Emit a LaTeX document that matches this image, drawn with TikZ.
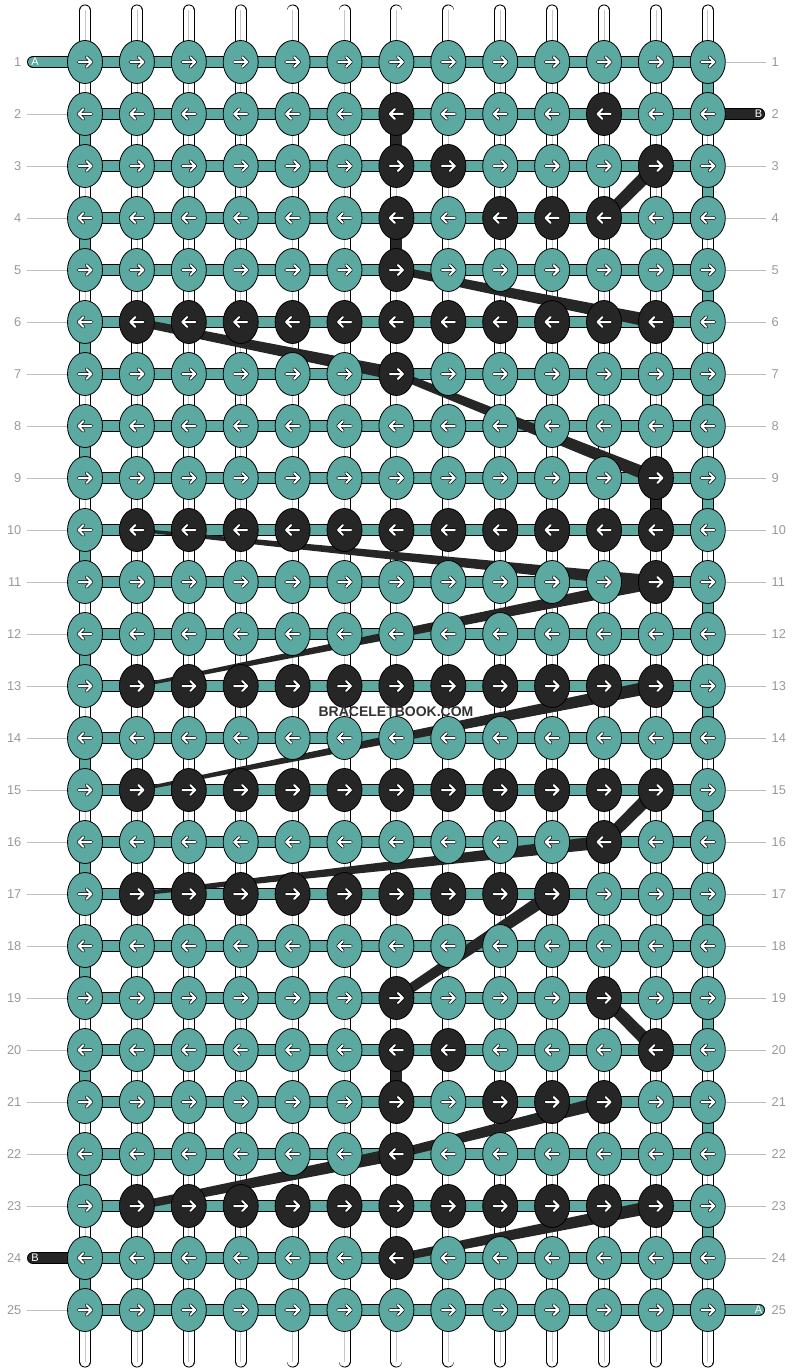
\documentclass[tikz,border=0pt]{standalone}
\usepackage{fontspec}
\setmainfont{Liberation Sans}
\usetikzlibrary{shapes.geometric}
\usetikzlibrary{calc}
\definecolor{thra}{HTML}{5BA9A0}
\definecolor{thrb}{HTML}{262626}
\definecolor{numgray}{HTML}{999999}
\definecolor{linegray}{HTML}{BDBDBD}
\definecolor{markgray}{HTML}{333333}
\pgfdeclarelayer{under}
\pgfsetlayers{under,main}
\tikzset{knot/.style = {ellipse, draw, line width = 0.8, inner sep = 0,
                        minimum width = 35, minimum height = 43}}
\tikzset{knota/.style = {knot, fill = thra}}
\tikzset{knotb/.style = {knot, fill = thrb}}
\tikzset{fwd/.style = {path picture = {
  \draw [shift = {(path picture bounding box.center)}, black, line width = 3.4,
         line cap = round, line join = round] (-6.5, 0) -- (6.5, 0) (1.5, -5) -- (6.5, 0) -- (1.5, 5);
  \draw [shift = {(path picture bounding box.center)}, white, line width = 2,
         line cap = round, line join = round] (-6.5, 0) -- (6.5, 0) (1.5, -5) -- (6.5, 0) -- (1.5, 5);}}}
\tikzset{bwd/.style = {path picture = {
  \draw [shift = {(path picture bounding box.center)}, black, line width = 3.4,
         line cap = round, line join = round] (6.5, 0) -- (-6.5, 0) (-1.5, -5) -- (-6.5, 0) -- (-1.5, 5);
  \draw [shift = {(path picture bounding box.center)}, white, line width = 2,
         line cap = round, line join = round] (6.5, 0) -- (-6.5, 0) (-1.5, -5) -- (-6.5, 0) -- (-1.5, 5);}}}
\tikzset{warp/.style = {draw = black, line width = 0.8, double = white, double distance = 10.4, line cap = round}}
\tikzset{bara/.style = {draw = black, line width = 0.8, double = thra, double distance = 10.4}}
\tikzset{barb/.style = {draw = black, line width = 0.8, double = thrb, double distance = 10.4}}
\tikzset{rowno/.style = {text = numgray, font = \fontsize{12.8}{12.8}\selectfont, inner sep = 0}}
\tikzset{endno/.style = {text = white, font = \fontsize{11}{11}\selectfont, inner sep = 0}}
\tikzset{rowline/.style = {draw = linegray, line width = 0.8}}
\newcommand\threadback[3]{\fill [thrb] ($(#1)!#3!90:(#2)$) -- ($(#2)!6.5pt!-90:(#1)$)
  -- ($(#2)!6.5pt!90:(#1)$) -- ($(#1)!#3!-90:(#2)$) -- cycle;}

\begin{document}
\begin{tikzpicture}[x = 1pt, y = -1pt]
        \useasboundingbox (0, 0) rectangle (792, 1372);
        \foreach \p in {2-7, 2-11, 3-7, 3-8, 3-12, 4-7, 4-9, 4-10, 4-11, 5-7, 7-7, 9-12, 11-12, 16-11,
                        19-7, 19-11, 20-7, 20-8, 20-12, 21-7, 21-9, 21-10, 21-11, 22-7, 24-7}
          {\expandafter\gdef\csname dark-\p\endcsname{}}
        \foreach \r in {6, 10, 13, 15, 23}
          \foreach \c in {2, ..., 12} {\expandafter\gdef\csname dark-\r-\c\endcsname{}}
        \foreach \c in {2, ..., 10} {\expandafter\gdef\csname dark-17-\c\endcsname{}}
        \foreach \r in {1, ..., 25} {
          \foreach \c in {1, ..., 13} {
            \ifcsname dark-\r-\c\endcsname \def\kfill{knotb}\else \def\kfill{knota}\fi
            \ifodd\r \def\kdir{fwd}\else \def\kdir{bwd}\fi
            \node [\kfill, \kdir] (k-\r-\c) at ({85 + 51.9*(\c - 1)}, {62 + 52*(\r - 1)}) {};
          }
          \node [rowno, anchor = east] (l-\r) at (21.5, {62 + 52*(\r - 1)}) {\r};
          \node [rowno, anchor = west] (r-\r) at (771.5, {62 + 52*(\r - 1)}) {\r};
          \ifnum\r=1 \else \ifnum\r=24 \else
            \draw [rowline, shorten <= 5pt] (l-\r.east) -- (k-\r-1.west);
          \fi \fi
          \ifnum\r=2 \else \ifnum\r=25 \else
            \draw [rowline, shorten >= 6pt] (k-\r-13.east) -- (r-\r.west);
          \fi \fi
        }
        \coordinate (tail-1) at (33, 62);
        \coordinate (tail-24) at (33, 1258);
        \coordinate (tail-2) at (759, 114);
        \coordinate (tail-25) at (759, 1310);
        \node [endno] (end-1) at (35, 62) {A};
        \node [endno] (end-24) at (35, 1258) {B};
        \node [endno] (end-2) at (758.5, 114) {B};
        \node [endno] (end-25) at (758.5, 1310) {A};
        \node [text = markgray, font = \fontsize{14}{14}\selectfont\bfseries] (mark) at (396, 711.5) {BRACELETBOOK.COM};
        \begin{pgfonlayer}{under}
          \foreach \c in {1, ..., 13} {
            \coordinate (top-\c) at ({85 + 51.9*(\c - 1)}, 10.5);
            \coordinate (bot-\c) at ({85 + 51.9*(\c - 1)}, 1361.5);
            \draw [warp] (top-\c) -- (bot-\c);
            \draw [gray!45, line width = 0.8] (top-\c) -- (bot-\c);
          }
          \foreach \r in {1, ..., 25}
            \draw [bara] (k-\r-1.center) -- (k-\r-13.center);
          \draw [bara, line cap = round] (k-1-1.center) -- (tail-1);
          \draw [barb, line cap = round] (k-24-1.center) -- (tail-24);
          \draw [barb, line cap = round] (k-2-13.center) -- (tail-2);
          \draw [bara, line cap = round] (k-25-13.center) -- (tail-25);
          \foreach \r [evaluate = \r as \s using int(\r + 1)] in {1, 3, ..., 23}
            \draw [bara] (k-\r-13.center) -- (k-\s-13.center);
          \foreach \r [evaluate = \r as \s using int(\r + 1)] in {2, 4, ..., 24}
            \draw [bara] (k-\r-1.center) -- (k-\s-1.center);
          \foreach \a/\b/\c in {2/3/7, 4/5/7, 9/10/12, 20/21/7}
            \draw [barb] (k-\a-\c.center) -- (k-\b-\c.center);
          \threadback{k-4-11}{k-3-12}{5.8pt}
          \threadback{k-5-7}{k-6-12}{3.9pt}
          \threadback{k-6-2}{k-7-7}{3.9pt}
          \threadback{k-7-7}{k-9-12}{3.7pt}
          \threadback{k-10-2}{k-11-12}{1.5pt}
          \threadback{k-13-2}{k-11-12}{1.5pt}
          \threadback{k-15-2}{k-13-12}{1.5pt}
          \threadback{k-16-11}{k-15-12}{5.8pt}
          \threadback{k-17-2}{k-16-11}{1.8pt}
          \threadback{k-19-7}{k-17-10}{4.6pt}
          \threadback{k-19-11}{k-20-12}{5.8pt}
          \threadback{k-22-7}{k-21-11}{4.4pt}
          \threadback{k-23-2}{k-22-7}{3.9pt}
          \threadback{k-24-7}{k-23-12}{3.9pt}
        \end{pgfonlayer}
      \end{tikzpicture}
\end{document}
